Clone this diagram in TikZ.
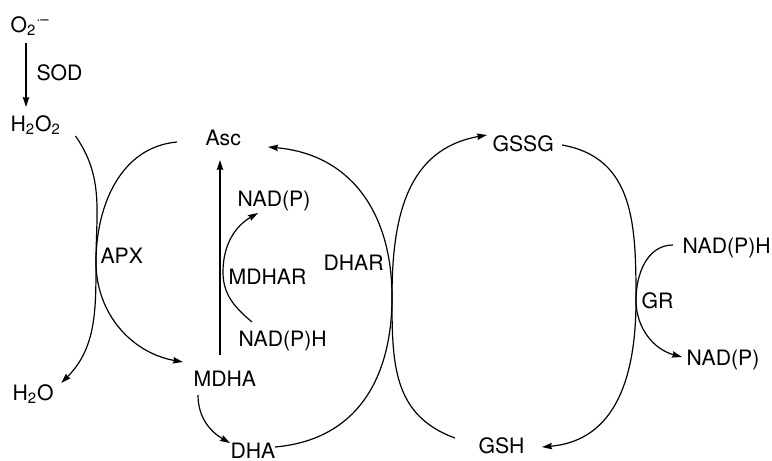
\documentclass[tikz,border=0pt]{standalone}
\usepackage{fontspec}
\setmainfont{TeX Gyre Heros}
\usetikzlibrary{arrows.meta,calc}

\begin{document}
\begin{tikzpicture}[x=0.5pt,y=0.5pt,line width=0.6pt,
    >={Stealth[length=5pt,width=3.2pt,inset=0.6pt]},
    every node/.style={inner sep=0pt,anchor=base west,font=\fontsize{10.6}{13}\selectfont}]
    \useasboundingbox (0,0) rectangle (772,-461);

    % Species
    \node (o2)     at (10,-32)  {O\textsubscript{2}\textsuperscript{·–}};
    \node (h2o2)   at (10,-131) {H\textsubscript{2}O\textsubscript{2}};
    \node (h2o)    at (12,-400) {H\textsubscript{2}O};
    \node (asc)    at (205,-145) {Asc};
    \node (mdha)   at (193,-386) {MDHA};
    \node (dha)    at (230,-458) {DHA};
    \node (nadp1)  at (237,-206) {NAD(P)};
    \node (nadph1) at (238,-346) {NAD(P)H};
    \node (gssg)   at (492,-151) {GSSG};
    \node (gsh)    at (478,-453) {GSH};
    \node (nadph2) at (682,-253) {NAD(P)H};
    \node (nadp2)  at (686,-365) {NAD(P)};

    % Enzymes
    \node (sod)   at (36,-80)   {SOD};
    \node (apx)   at (100,-263) {APX};
    \node (mdhar) at (228,-284) {MDHAR};
    \node (dhar)  at (323,-270) {DHAR};
    \node (gr)    at (641,-308) {GR};

    % Where the coupled arcs touch
    \coordinate (apxc)   at ($(apx.base west)+(-4,1)$);
    \coordinate (mdharc) at ($(mdhar.base west)+(-5,12)$);
    \coordinate (dharc)  at ($(dhar.base west)+(69,-27)$);
    \coordinate (grc)    at ($(gr.base west)+(-5,8)$);

    % SOD
    \draw [->] ($(o2.base west)+(16,-11)$) -- ($(h2o2.base west)+(16,24)$);

    % APX
    \draw [->] ($(h2o2.base east)+(14,-5)$) to[out=-55,in=90] (apxc)
        to[out=-90,in=45] ($(h2o.base east)+(7,17)$);
    \draw [->] ($(asc.base west)+(-28,3)$) to[out=185,in=90] (apxc)
        to[out=-90,in=170] ($(mdha.base west)+(-10,24)$);

    % MDHAR
    \draw [->] ($(mdha.base west)+(27,31)$) -- ($(asc.base west)+(15,-15)$);
    \draw [->] ($(nadph1.base west)+(14,24)$) to[out=140,in=-90] (mdharc)
        to[out=90,in=210] ($(nadp1.base west)+(21,-7)$);
    \draw [->] ($(mdha.base west)+(5,-9)$) to[out=-90,in=150] ($(dha.base west)+(0,15)$);

    % DHAR
    \draw [->] ($(dha.base west)+(45,11)$) to[out=5,in=-90,looseness=1.1] (dharc)
        to[out=90,in=-5,looseness=1.1] ($(asc.base west)+(63,-2)$);
    \draw [->] ($(gsh.base west)+(-23,15)$) to[out=160,in=-90,looseness=1.1] (dharc)
        to[out=90,in=190,looseness=1.1] ($(gssg.base west)+(-5,16)$);

    % GR
    \draw [->] ($(gssg.base west)+(70,6)$) to[out=-10,in=90,looseness=1.1] (grc)
        to[out=-90,in=5,looseness=1.1] ($(gsh.base west)+(64,6)$);
    \draw [->] ($(nadph2.base west)+(-9,8)$) to[out=180,in=90] (grc)
        to[out=-90,in=165] ($(nadp2.base west)+(-4,8)$);
\end{tikzpicture}
\end{document}
